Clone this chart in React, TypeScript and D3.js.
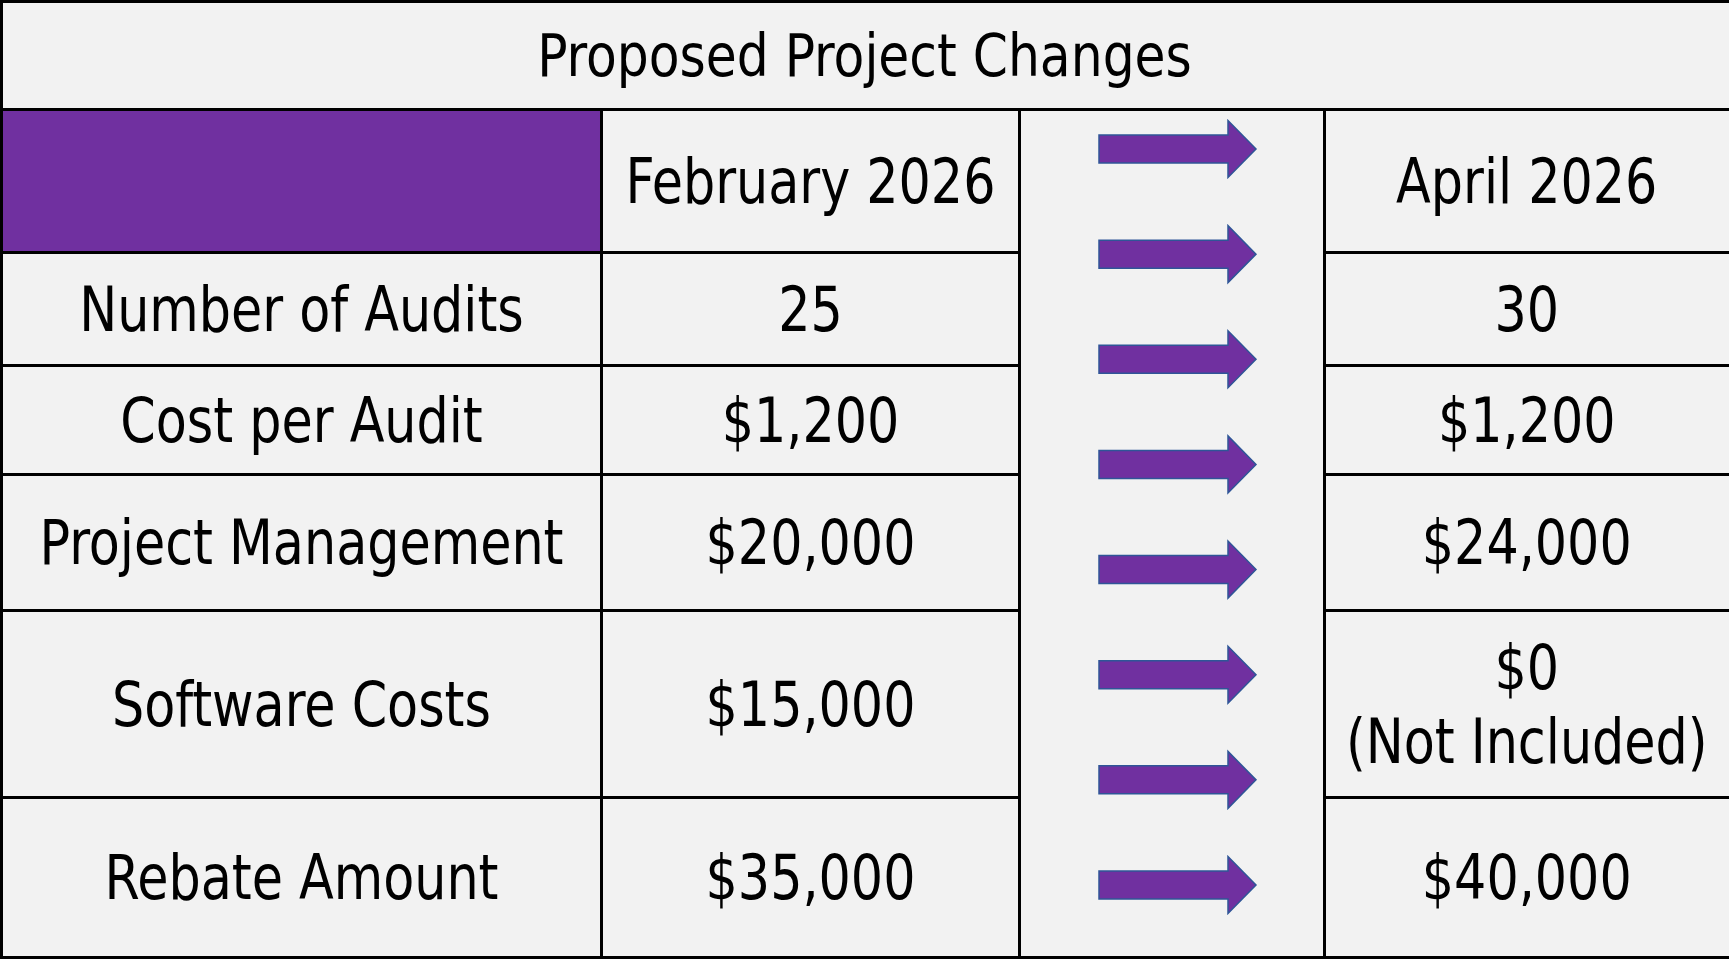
import React, { useRef, useEffect } from "react";
import * as d3 from "d3";

const title = "Proposed Project Changes";
const columnHeaders = ["", "February 2026", "", "April 2026"];
const rowLabels = [
  "Number of Audits",
  "Cost per Audit",
  "Project Management",
  "Software Costs",
  "Rebate Amount",
];
const febValues = ["25", "$1,200", "$20,000", "$15,000", "$35,000"];
const aprValues = ["30", "$1,200", "$24,000", "$0\n(Not Included)", "$40,000"];
const arrowCount = 8;

const App = () => {
  const svgRef = useRef<SVGSVGElement>(null);

  useEffect(() => {
    const width = 1729;
    const height = 959;
    const svg = d3.select(svgRef.current);
    svg.attr("width", width).attr("height", height);
    svg.selectAll("*").remove(); // Clear previous render

    const font = "'DejaVu Sans Condensed', 'DejaVu Sans', sans-serif";
    const colEdges = [1.5, 601.5, 1019.5, 1324.5, 1729];
    const rowEdges = [1.5, 109.5, 252.5, 365.5, 474.5, 610.5, 797.5, 957.5];

    svg.append("rect").attr("width", width).attr("height", height).attr("fill", "#f2f2f2");

    // purple header cell
    svg
      .append("rect")
      .attr("x", colEdges[0])
      .attr("y", rowEdges[1])
      .attr("width", colEdges[1] - colEdges[0])
      .attr("height", rowEdges[2] - rowEdges[1])
      .attr("fill", "#7030a0");

    const lines = svg.append("g").attr("stroke", "#000").attr("stroke-width", 3);
    // title row
    lines.append("line").attr("x1", 0).attr("x2", width).attr("y1", rowEdges[0]).attr("y2", rowEdges[0]);
    lines.append("line").attr("x1", 0).attr("x2", width).attr("y1", rowEdges[1]).attr("y2", rowEdges[1]);
    // row lines, skipping the arrow column
    rowEdges.slice(2).forEach((y) => {
      lines.append("line").attr("x1", 0).attr("x2", colEdges[2]).attr("y1", y).attr("y2", y);
      lines.append("line").attr("x1", colEdges[3]).attr("x2", width).attr("y1", y).attr("y2", y);
    });
    lines.append("line").attr("x1", colEdges[2]).attr("x2", colEdges[3]).attr("y1", rowEdges[7]).attr("y2", rowEdges[7]);
    // verticals
    lines.append("line").attr("x1", colEdges[0]).attr("x2", colEdges[0]).attr("y1", 0).attr("y2", height);
    colEdges.slice(1, 4).forEach((x) => {
      lines.append("line").attr("x1", x).attr("x2", x).attr("y1", rowEdges[1]).attr("y2", height);
    });

    const text = svg
      .append("g")
      .attr("font-family", font)
      .attr("fill", "#000")
      .attr("text-anchor", "middle")
      .attr("dominant-baseline", "central");

    // squeeze the text a little, the original face is narrower
    const squeeze = (sel: any, k: number) => {
      const node = sel.node() as SVGTextElement;
      const len = node.getComputedTextLength();
      sel.attr("textLength", len * k).attr("lengthAdjust", "spacingAndGlyphs");
    };

    const t = text
      .append("text")
      .attr("x", width / 2)
      .attr("y", (rowEdges[0] + rowEdges[1]) / 2)
      .attr("font-size", 58)
      .text(title);
    squeeze(t, 0.965);

    const colMid = (i: number) => (colEdges[i] + colEdges[i + 1]) / 2;
    const rowMid = (i: number) => (rowEdges[i] + rowEdges[i + 1]) / 2;

    columnHeaders.forEach((h, i) => {
      if (!h) return;
      const s = text.append("text").attr("x", colMid(i)).attr("y", rowMid(1)).attr("font-size", 62).text(h);
      squeeze(s, 0.91);
    });

    const cell = (label: string, col: number, row: number) => {
      const parts = label.split("\n");
      const lh = 74;
      parts.forEach((p, k) => {
        const s = text
          .append("text")
          .attr("x", colMid(col))
          .attr("y", rowMid(row) + (k - (parts.length - 1) / 2) * lh)
          .attr("font-size", 62)
          .text(p);
        squeeze(s, 0.91);
      });
    };

    rowLabels.forEach((l, i) => cell(l, 0, i + 2));
    febValues.forEach((v, i) => cell(v, 1, i + 2));
    aprValues.forEach((v, i) => cell(v, 3, i + 2));

    // arrows
    const yArrow = d3.scaleLinear().domain([0, arrowCount - 1]).range([149, 885]);
    const x0 = 1099;
    const xh = 1228;
    const xt = 1256;
    const bh = 14;
    const hh = 28.5;
    svg
      .append("g")
      .selectAll("path")
      .data(d3.range(arrowCount))
      .enter()
      .append("path")
      .attr("d", (d) => {
        const c = yArrow(d);
        return `M${x0},${c - bh}H${xh}V${c - hh}L${xt},${c}L${xh},${c + hh}V${c + bh}H${x0}Z`;
      })
      .attr("fill", "#7030a0")
      .attr("stroke", "#2f5597")
      .attr("stroke-width", 1.5);
  }, []);

  return <svg ref={svgRef} style={{ position: "absolute", left: 0, top: 0 }} />;
};

export default App;
